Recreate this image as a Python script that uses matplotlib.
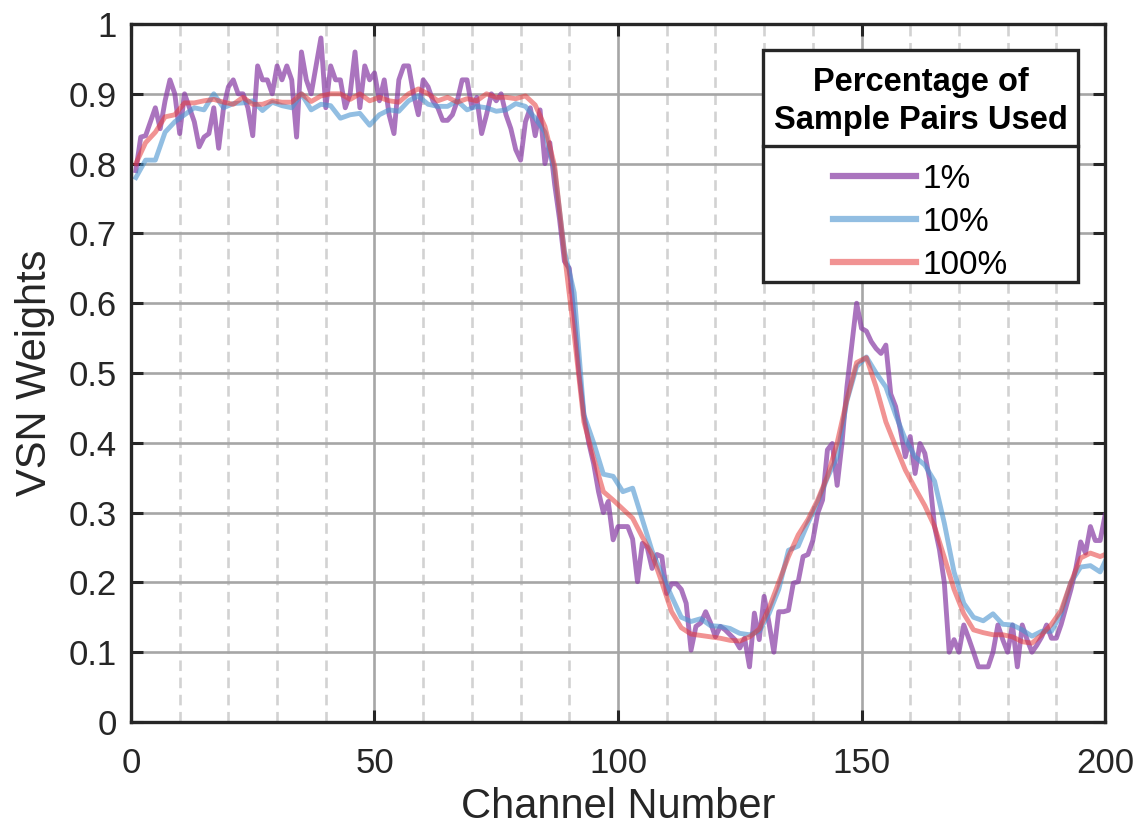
import numpy as np
import matplotlib.pyplot as plt
from matplotlib.lines import Line2D
from matplotlib.patches import Rectangle

plt.rcParams['font.family'] = ['Liberation Sans', 'DejaVu Sans']

# 1% of sample pairs, one value per channel
ch_1 = np.arange(1, 201)
w_1 = [0.79, 0.838, 0.84, 0.86, 0.88, 0.85, 0.89, 0.92, 0.90, 0.843,
       0.90, 0.88, 0.86, 0.824, 0.838, 0.843, 0.88, 0.822, 0.88, 0.91,
       0.92, 0.90, 0.90, 0.88, 0.84, 0.94, 0.92, 0.92, 0.90, 0.94,
       0.92, 0.94, 0.92, 0.838, 0.96, 0.92, 0.90, 0.94, 0.98, 0.88,
       0.94, 0.92, 0.92, 0.88, 0.90, 0.96, 0.88, 0.94, 0.92, 0.93,
       0.89, 0.92, 0.87, 0.843, 0.92, 0.94, 0.94, 0.90, 0.87, 0.92,
       0.91, 0.89, 0.88, 0.862, 0.862, 0.87, 0.89, 0.92, 0.92, 0.88,
       0.895, 0.843, 0.87, 0.90, 0.89, 0.90, 0.87, 0.85, 0.82, 0.805,
       0.86, 0.88, 0.84, 0.877, 0.80, 0.83, 0.77, 0.72, 0.66, 0.65,
       0.58, 0.50, 0.44, 0.40, 0.37, 0.33, 0.30, 0.316, 0.261, 0.28,
       0.28, 0.28, 0.262, 0.201, 0.256, 0.25, 0.22, 0.24, 0.237, 0.184,
       0.198, 0.198, 0.19, 0.17, 0.103, 0.137, 0.142, 0.158, 0.142, 0.122,
       0.137, 0.132, 0.125, 0.118, 0.106, 0.12, 0.079, 0.156, 0.118, 0.18,
       0.142, 0.10, 0.158, 0.158, 0.16, 0.199, 0.201, 0.237, 0.24, 0.26,
       0.299, 0.318, 0.39, 0.399, 0.339, 0.40, 0.48, 0.54, 0.60, 0.564,
       0.56, 0.545, 0.535, 0.528, 0.54, 0.47, 0.452, 0.418, 0.38, 0.409,
       0.356, 0.399, 0.385, 0.347, 0.28, 0.247, 0.20, 0.10, 0.118, 0.10,
       0.139, 0.12, 0.10, 0.079, 0.079, 0.079, 0.10, 0.139, 0.118, 0.10,
       0.139, 0.079, 0.139, 0.118, 0.10, 0.11, 0.122, 0.139, 0.12, 0.12,
       0.14, 0.165, 0.19, 0.22, 0.258, 0.242, 0.28, 0.26, 0.26, 0.296]

# 10% and 100%, read every other channel
ch_10 = np.r_[np.arange(1, 200, 2), 200]
w_10 = [0.78, 0.805, 0.805, 0.845, 0.86, 0.87, 0.88, 0.877, 0.90, 0.88,
        0.886, 0.887, 0.89, 0.876, 0.888, 0.883, 0.88, 0.90, 0.877, 0.885,
        0.883, 0.865, 0.87, 0.872, 0.855, 0.87, 0.877, 0.875, 0.89, 0.897,
        0.885, 0.882, 0.882, 0.89, 0.877, 0.882, 0.88, 0.875, 0.877, 0.886,
        0.882, 0.865, 0.845, 0.79, 0.675, 0.615, 0.44, 0.40, 0.355, 0.352,
        0.33, 0.335, 0.29, 0.245, 0.212, 0.18, 0.15, 0.144, 0.148, 0.138,
        0.137, 0.134, 0.127, 0.125, 0.13, 0.155, 0.19, 0.246, 0.252, 0.285,
        0.315, 0.35, 0.38, 0.46, 0.509, 0.523, 0.50, 0.48, 0.44, 0.405,
        0.38, 0.368, 0.345, 0.285, 0.215, 0.17, 0.15, 0.145, 0.155, 0.14,
        0.139, 0.132, 0.123, 0.13, 0.13, 0.155, 0.20, 0.222, 0.224, 0.215,
        0.23]

ch_100 = np.r_[np.arange(1, 200, 2), 200]
w_100 = [0.80, 0.83, 0.845, 0.867, 0.87, 0.887, 0.887, 0.89, 0.892, 0.888,
         0.885, 0.895, 0.885, 0.885, 0.89, 0.888, 0.888, 0.90, 0.889, 0.897,
         0.90, 0.90, 0.892, 0.90, 0.89, 0.895, 0.89, 0.888, 0.90, 0.907,
         0.90, 0.89, 0.895, 0.888, 0.893, 0.89, 0.90, 0.895, 0.895, 0.893,
         0.897, 0.884, 0.853, 0.796, 0.671, 0.555, 0.43, 0.378, 0.33, 0.318,
         0.305, 0.292, 0.265, 0.24, 0.20, 0.158, 0.135, 0.126, 0.124, 0.122,
         0.12, 0.117, 0.116, 0.122, 0.133, 0.163, 0.20, 0.237, 0.268, 0.29,
         0.318, 0.352, 0.40, 0.462, 0.515, 0.522, 0.48, 0.43, 0.395, 0.361,
         0.335, 0.31, 0.28, 0.236, 0.19, 0.155, 0.132, 0.128, 0.125, 0.125,
         0.122, 0.115, 0.113, 0.125, 0.14, 0.16, 0.20, 0.235, 0.242, 0.237,
         0.24]

labels = ['1%', '10%', '100%']
dark = '#262626'

fig = plt.figure(figsize=(11.47, 8.34), dpi=100)
ax = fig.add_axes([0.1142, 0.1343, 0.8492, 0.8369])

ax.plot(ch_1, w_1, color='#8a3fa6', alpha=0.72, lw=3.5, label=labels[0])
ax.plot(ch_10, w_10, color='#4a94cf', alpha=0.6, lw=3.5, label=labels[1])
ax.plot(ch_100, w_100, color='#e63a3a', alpha=0.55, lw=3.5, label=labels[2])

ax.set_xlim(0, 200)
ax.set_ylim(0, 1)
ax.set_xticks([0, 50, 100, 150, 200])
ax.set_xticks(np.arange(0, 201, 10), minor=True)
ax.set_yticks(np.arange(0, 1.01, 0.1))
ax.set_yticklabels(['0', '0.1', '0.2', '0.3', '0.4', '0.5', '0.6', '0.7', '0.8', '0.9', '1'])

ax.grid(True, which='major', color='#a6a6a6', lw=1.9)
ax.grid(True, which='minor', axis='x', color='#d2d2d2', lw=1.9, ls=(0, (4, 2.5)))
ax.set_axisbelow(True)

ax.tick_params(which='major', direction='in', length=8.5, width=2.2, labelsize=25,
               colors=dark, top=True, right=True)
ax.tick_params(axis='y', pad=10)
ax.tick_params(axis='x', pad=18)
ax.tick_params(which='minor', length=0, top=True, right=True)
for s in ax.spines.values():
    s.set_linewidth(2.4)
    s.set_color(dark)

ax.set_xlabel('Channel Number', fontsize=30, color=dark, labelpad=5)
ax.set_ylabel('VSN Weights', fontsize=30, color=dark, labelpad=10)

# legend box with a line between the title and the entries
bx0, bx1 = 763 / 1147, 1078 / 1147
by0, by1 = 1 - 282 / 834, 1 - 50 / 834
sep_y = 1 - 146 / 834
ax.add_patch(Rectangle((bx0, by0), bx1 - bx0, by1 - by0, transform=fig.transFigure,
                       facecolor='white', edgecolor=dark, lw=2.4, zorder=4.5,
                       clip_on=False))
ax.add_line(Line2D([bx0, bx1], [sep_y, sep_y], transform=fig.transFigure,
                   color=dark, lw=2.4, zorder=4.6, clip_on=False))

leg = ax.legend(title='Percentage of\nSample Pairs Used', loc='upper center',
                bbox_to_anchor=((bx0 + bx1) / 2, by1 - 9 / 834),
                bbox_transform=fig.transFigure,
                fontsize=24, title_fontproperties={'weight': 'bold', 'size': 23.5},
                frameon=False, handlelength=2.5, handletextpad=0.2,
                labelspacing=0.36, borderpad=0.25, borderaxespad=0,
                alignment='center')
leg._legend_box.sep = 20
leg.get_title().set_linespacing(1.27)
leg.get_title().set_multialignment('center')
for h in leg.legend_handles:
    h.set_linewidth(4.5)

fig.savefig('out.png', dpi=100)
